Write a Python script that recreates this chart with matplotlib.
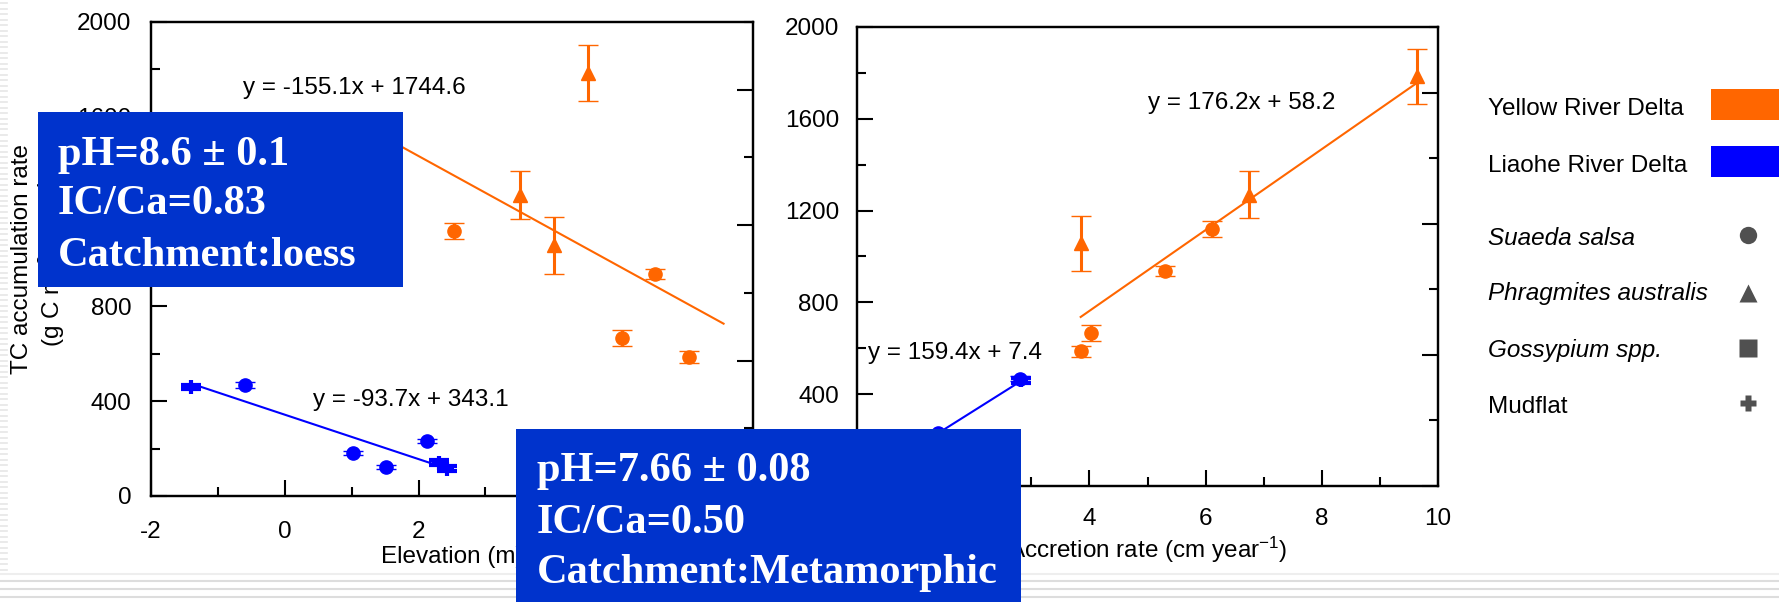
import numpy as np
import matplotlib
matplotlib.use('Agg')
from matplotlib import pyplot as plt
from matplotlib.patches import Rectangle
from matplotlib.lines import Line2D
from matplotlib.ticker import MultipleLocator, NullFormatter

plt.rcParams['font.family'] = ['Liberation Sans', 'DejaVu Sans']
plt.rcParams['mathtext.fontset'] = 'custom'
plt.rcParams['mathtext.rm'] = 'Liberation Sans'
plt.rcParams['mathtext.it'] = 'Liberation Sans:italic'
plt.rcParams['axes.unicode_minus'] = False

# ---- data: Yellow River Delta (orange) ----
yrd_circle_elev = [2.53, 5.04, 5.53, 6.05]
yrd_circle_acc = [6.11, 4.03, 5.30, 3.86]
yrd_circle_tc = [1118, 667, 937, 587]
yrd_circle_err = [35, 34, 22, 25]

yrd_tri_elev = [3.52, 4.03, 4.54]
yrd_tri_acc = [6.74, 3.86, 9.64]
yrd_tri_tc = [1270, 1058, 1785]
yrd_tri_err = [103, 120, 120]

# ---- data: Liaohe River Delta (blue) ----
lrd_circle_elev = [-0.59, 1.02, 1.52, 2.12]
lrd_circle_acc = [2.81, 1.10, 0.75, 1.40]
lrd_circle_tc = [468, 181, 122, 232]
lrd_circle_err = [12, 10, 10, 10]

lrd_plus_elev = [-1.40, 2.30, 2.42]
lrd_plus_acc = [2.83, 0.85, 0.70]
lrd_plus_tc = [460, 140, 115]
lrd_plus_err = [10, 10, 10]

# regression lines: slope, intercept, x range
yrd_elev_fit = (-155.1, 1744.6, 1.5, 6.56)
lrd_elev_fit = (-93.7, 343.1, -1.4, 2.3)
yrd_acc_fit = (176.2, 58.2, 3.85, 9.64)
lrd_acc_fit = (159.4, 7.4, 0.6, 2.85)

legend_regions = ['Yellow River Delta', 'Liaohe River Delta']
legend_types = ['Suaeda salsa', 'Phragmites australis', 'Gossypium spp.', 'Mudflat']

box_left = ['pH=8.6 \u00b1 0.1', 'IC/Ca=0.83', 'Catchment:loess']
box_right = ['pH=7.66 \u00b1 0.08', 'IC/Ca=0.50', 'Catchment:Metamorphic']

ORANGE = '#FF6600'
BLUE = '#0000FF'
BOXBLUE = '#0033CC'
FS = 17.5
BFS = 30.5

W, H = 1779, 602
fig = plt.figure(figsize=(W / 100, H / 100), dpi=100)


def px(x, y):
    # pixel position -> figure fraction
    return x / W, 1 - y / H


def points(ax, x, y, err, color, marker, ms, mew=1):
    ax.errorbar(x, y, yerr=err, fmt=marker, color=color, ms=ms, mew=mew,
                elinewidth=2.2, capsize=7.5, capthick=2.2, ls='none', zorder=3)


def fit_line(ax, fit, color):
    k, b, x0, x1 = fit
    xs = np.array([x0, x1])
    ax.plot(xs, k * xs + b, color=color, lw=1.5, zorder=2)


def style_axis(ax, xmaj, xmin, xpad, ypad):
    ax.xaxis.set_major_locator(MultipleLocator(xmaj))
    ax.xaxis.set_minor_locator(MultipleLocator(xmin))
    ax.yaxis.set_major_locator(MultipleLocator(400))
    ax.yaxis.set_minor_locator(MultipleLocator(200))
    ax.tick_params(which='both', direction='in', width=1.5, top=False, right=False,
                   labelsize=FS)
    ax.tick_params(which='major', length=11.5)
    ax.tick_params(which='minor', length=6.5)
    ax.tick_params(axis='x', pad=xpad)
    ax.tick_params(axis='y', pad=ypad)
    for s in ax.spines.values():
        s.set_linewidth(1.6)
    # extra unlabelled scale on the right spine
    tw = ax.twinx()
    tw.set_ylim(0, 7)
    tw.yaxis.set_major_locator(MultipleLocator(2))
    tw.yaxis.set_minor_locator(MultipleLocator(1))
    tw.yaxis.set_major_formatter(NullFormatter())
    tw.tick_params(which='both', direction='in', width=1.5)
    tw.tick_params(which='major', length=11.5)
    tw.tick_params(which='minor', length=6.5)
    for s in tw.spines.values():
        s.set_linewidth(1.6)


# ---- left panel: elevation ----
ax1 = fig.add_axes([151 / W, 1 - 496 / H, (753 - 151) / W, (496 - 22) / H])
fit_line(ax1, yrd_elev_fit, ORANGE)
fit_line(ax1, lrd_elev_fit, BLUE)
points(ax1, yrd_circle_elev, yrd_circle_tc, yrd_circle_err, ORANGE, 'o', 9.5)
points(ax1, yrd_tri_elev, yrd_tri_tc, yrd_tri_err, ORANGE, '^', 9.5)
points(ax1, lrd_circle_elev, lrd_circle_tc, lrd_circle_err, BLUE, 'o', 9.5)
points(ax1, lrd_plus_elev, lrd_plus_tc, lrd_plus_err, BLUE, '+', 10, mew=3)
ax1.set_xlim(-2, 7)
ax1.set_ylim(0, 2000)
style_axis(ax1, 2, 1, 18, 14)
ax1.set_xlabel('Elevation (m)', fontsize=FS)
ax1.xaxis.set_label_coords(0.5, -0.106)
ax1.text(-0.62, 1722, 'y = -155.1x + 1744.6', fontsize=FS, va='center', ha='left')
ax1.text(0.42, 405, 'y = -93.7x + 343.1', fontsize=FS, va='center', ha='left')

fig.text(*px(39, 259), 'TC accumulation rate\n(g C m$^{-2}$ year$^{-1}$)', fontsize=FS,
         rotation=90, ha='center', va='center', multialignment='center', linespacing=1.15)

# ---- right panel: accretion rate ----
ax2 = fig.add_axes([857 / W, 1 - 486 / H, (1438 - 857) / W, (486 - 27) / H])
fit_line(ax2, yrd_acc_fit, ORANGE)
fit_line(ax2, lrd_acc_fit, BLUE)
points(ax2, yrd_circle_acc, yrd_circle_tc, yrd_circle_err, ORANGE, 'o', 9.5)
points(ax2, yrd_tri_acc, yrd_tri_tc, yrd_tri_err, ORANGE, '^', 9.5)
points(ax2, lrd_circle_acc, lrd_circle_tc, lrd_circle_err, BLUE, 'o', 9.5)
points(ax2, lrd_plus_acc, lrd_plus_tc, lrd_plus_err, BLUE, '+', 10, mew=3)
ax2.set_xlim(0, 10)
ax2.set_ylim(0, 2000)
style_axis(ax2, 2, 1, 16, 13)
ax2.set_xlabel('Accretion rate (cm year$^{-1}$)', fontsize=FS)
ax2.xaxis.set_label_coords(0.5, -0.106)
ax2.text(5.01, 1669, 'y = 176.2x + 58.2', fontsize=FS, va='center', ha='left')
ax2.text(0.19, 580, 'y = 159.4x + 7.4', fontsize=FS, va='center', ha='left')

# ---- legend on the right ----
lx = 1488 / W
for lab, yb, col in zip(legend_regions, [115, 172], [ORANGE, BLUE]):
    fig.text(lx, 1 - yb / H, lab, fontsize=FS, va='baseline', ha='left')
    fig.add_artist(Rectangle(px(1711, yb + 5), 68 / W, 31 / H, transform=fig.transFigure,
                             fc=col, ec='none'))
for lab, yb, ym, mk in zip(legend_types, [245, 300, 357, 413], [235, 293, 348, 403],
                           ['o', '^', 's', 'P']):
    style = 'normal' if lab == 'Mudflat' else 'italic'
    fig.text(lx, 1 - yb / H, lab, fontsize=FS, va='baseline', ha='left', style=style)
    fig.add_artist(Line2D([1748 / W], [1 - ym / H], transform=fig.transFigure, marker=mk,
                          ms=12.5 if mk != 'P' else 11, color='#505050', mec='none', ls='none'))

# ---- blue annotation boxes ----
fig.add_artist(Rectangle(px(38, 287), 365 / W, 175 / H, transform=fig.transFigure,
                         fc=BOXBLUE, ec='none', zorder=10))
for t, yb in zip(box_left, [165, 214, 266]):
    fig.text(58 / W, 1 - yb / H, t, fontsize=BFS, color='white', weight='bold',
             family=['Liberation Serif', 'DejaVu Serif'], va='baseline', ha='left', zorder=11)

fig.add_artist(Rectangle(px(516, 602), 505 / W, 173 / H, transform=fig.transFigure,
                         fc=BOXBLUE, ec='none', zorder=10))
for t, yb in zip(box_right, [481, 533, 583]):
    fig.text(537 / W, 1 - yb / H, t, fontsize=BFS, color='white', weight='bold',
             family=['Liberation Serif', 'DejaVu Serif'], va='baseline', ha='left', zorder=11)

# slide template stripes (left edge + bottom)
for yy in np.arange(3, 574, 5.5):
    fig.add_artist(Line2D([0, 7 / W], [1 - yy / H] * 2, transform=fig.transFigure,
                          color='#e6e6e6', lw=1.2, zorder=0))
for yy, c in zip([574, 581, 589, 597], ['#eeeeee', '#dddddd', '#dddddd', '#dddddd']):
    fig.add_artist(Line2D([0, 1], [1 - yy / H] * 2, transform=fig.transFigure,
                          color=c, lw=1.5, zorder=0))

fig.savefig('out.png', dpi=100)
